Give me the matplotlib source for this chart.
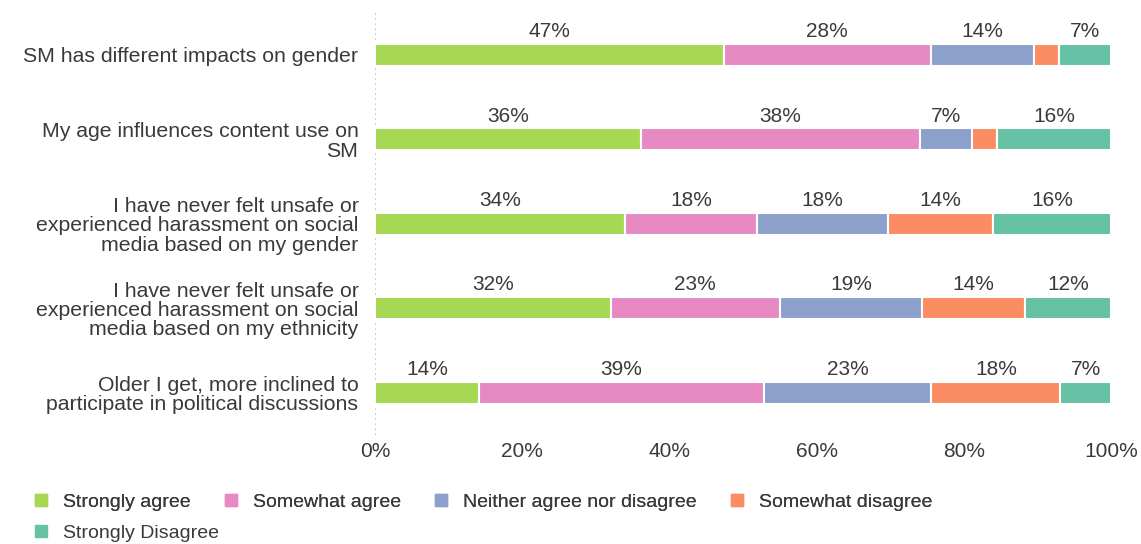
import matplotlib.pyplot as plt
from matplotlib.lines import Line2D

plt.rcParams['font.family'] = ['Liberation Sans', 'DejaVu Sans']

# Survey statements (top to bottom)
statements = [
    "SM has different impacts on gender",
    "My age influences content use on\nSM",
    "I have never felt unsafe or\nexperienced harassment on social\nmedia based on my gender",
    "I have never felt unsafe or\nexperienced harassment on social\nmedia based on my ethnicity",
    "Older I get, more inclined to\nparticipate in political discussions",
]

# Response categories
responses = ["Strongly agree", "Somewhat agree", "Neither agree nor disagree",
             "Somewhat disagree", "Strongly Disagree"]
colors = ["#a6d854", "#e78ac3", "#8da0cb", "#fc8d62", "#66c2a5"]

# Share of responses (%) per statement, one list per response category
strongly_agree = [47.4, 36.1, 34.0, 32.0, 14.1]
somewhat_agree = [28.1, 38.0, 17.9, 23.0, 38.8]
neither = [14.1, 7.0, 17.8, 19.3, 22.7]
somewhat_disagree = [3.4, 3.4, 14.3, 14.0, 17.5]
strongly_disagree = [7.0, 15.5, 16.0, 11.7, 6.9]
series = [strongly_agree, somewhat_agree, neither, somewhat_disagree, strongly_disagree]

text_color = "#3a3a3a"
fig = plt.figure(figsize=(11.41, 5.44), dpi=100)
ax = fig.add_axes([0.3287, 0.2004, 0.645, 0.7812])

ypos = list(range(len(statements)))
bar_h = 0.26
left = [0.0] * len(statements)
for vals, col, name in zip(series, colors, responses):
    ax.barh(ypos, vals, left=left, height=bar_h, color=col,
            edgecolor="white", linewidth=1.5, label=name)
    for y, v, l in zip(ypos, vals, left):
        if v >= 5:
            ax.annotate(f"{v:.0f}%", xy=(l + v / 2, y - bar_h / 2),
                        xytext=(0, 2), textcoords="offset points",
                        ha="center", va="bottom", fontsize=15, color=text_color)
    left = [a + b for a, b in zip(left, vals)]

ax.set_xlim(0, 100)
ax.set_ylim(4.5, -0.53)
ax.set_yticks(ypos)
ax.set_yticklabels(statements, fontsize=15.3, color=text_color, linespacing=1.03)
ax.set_xticks([0, 20, 40, 60, 80, 100])
ax.set_xticklabels([f"{t}%" for t in [0, 20, 40, 60, 80, 100]], fontsize=15, color=text_color)
ax.tick_params(axis="both", length=0)
ax.tick_params(axis="y", pad=12)
ax.tick_params(axis="x", pad=5)
for s in ax.spines.values():
    s.set_visible(False)
ax.axvline(0, color="#bbbbbb", linestyle=(0, (1, 2)), linewidth=1.2, zorder=0)

handles = [Line2D([], [], marker="s", linestyle="none", markersize=9,
                  markerfacecolor=c, markeredgecolor=c) for c in colors]
leg_kw = dict(loc="center left", frameon=False, fontsize=14, handlelength=1.0,
              handletextpad=0.65, columnspacing=1.55, borderpad=0, borderaxespad=0,
              labelcolor=text_color)
leg1 = fig.legend(handles[:4], responses[:4], ncol=4,
                  bbox_to_anchor=(0.0272, 1 - 502 / 544), **leg_kw)
leg2 = fig.legend(handles[4:], responses[4:],
                  bbox_to_anchor=(0.0272, 1 - 533 / 544), **leg_kw)
fig.add_artist(leg1)

fig.savefig("out.png", dpi=100)
